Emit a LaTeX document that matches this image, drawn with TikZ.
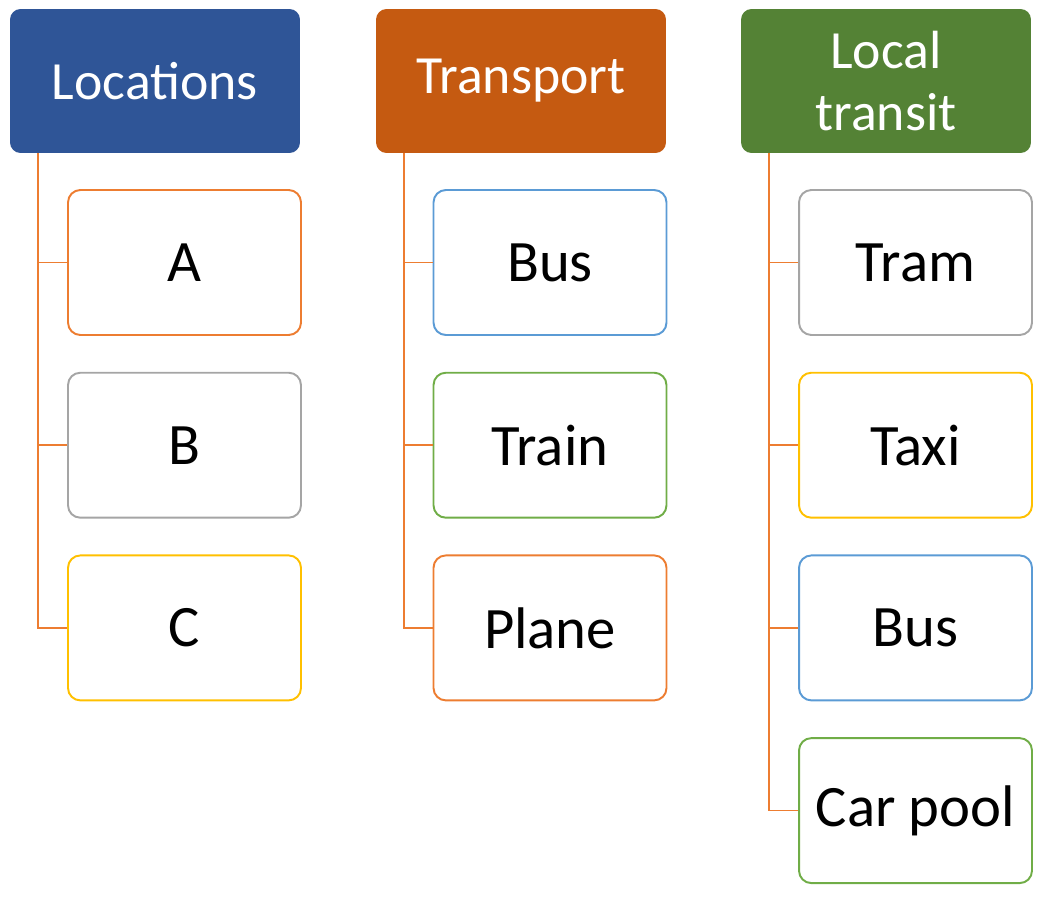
\documentclass[tikz,border=0pt]{standalone}
\usepackage{fontspec}
\setmainfont{Carlito}
\definecolor{hblue}{HTML}{2F5597}
\definecolor{horange}{HTML}{C55A11}
\definecolor{hgreen}{HTML}{548235}
\definecolor{lorange}{HTML}{ED7D31}
\definecolor{lgray}{HTML}{A5A5A5}
\definecolor{lgold}{HTML}{FFC000}
\definecolor{lblue}{HTML}{5B9BD5}
\definecolor{lgreen}{HTML}{70AD47}

\tikzstyle{head} = [rectangle, rounded corners=6pt, text=white, minimum width=5.8cm, minimum height=2.88cm, inner sep=0pt, align=center, font=\fontsize{30.6}{35}\selectfont]
\tikzstyle{item} = [rectangle, rounded corners=7pt, fill=white, text=black, line width=1.1pt, minimum width=4.66cm, minimum height=2.9cm, inner sep=0pt, font=\fontsize{33.4}{40}\selectfont]
\tikzstyle{link} = [draw=lorange, line width=1pt]

\begin{document}
\begin{tikzpicture}[x=0.02cm, y=-0.02cm]
    \useasboundingbox (0,0) rectangle (1047,902);
    % Headers
    \node[head, fill=hblue] (h1) at (155,81) {Locations};
    \node[head, fill=horange] (h2) at (521,81) {Transport};
    \node[head, fill=hgreen] (h3) at (886,81) {Local\\transit};
    \coordinate (t1) at (38,153);
    \coordinate (t2) at (404,153);
    \coordinate (t3) at (769,153);
    % Items
    \foreach \txt/\c/\r/\clr in {A/1/1/lorange, B/1/2/lgray, C/1/3/lgold,
        Bus/2/1/lblue, Train/2/2/lgreen, Plane/2/3/lorange,
        Tram/3/1/lgray, Taxi/3/2/lgold, Bus/3/3/lblue, Car pool/3/4/lgreen} {
      \node[item, draw=\clr] (i\c\r) at ({184.5+365.5*(\c-1)}, {262.5+182.7*(\r-1)}) {\txt};
    }
    % Edges
    \foreach \c/\r in {1/1, 1/2, 1/3, 2/1, 2/2, 2/3, 3/1, 3/2, 3/3, 3/4}
      \draw[link] (t\c) |- (i\c\r.west);
\end{tikzpicture}
\end{document}
